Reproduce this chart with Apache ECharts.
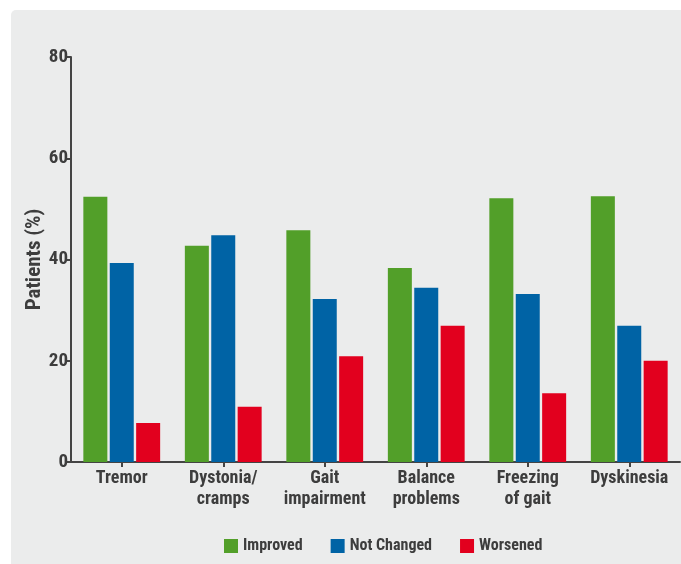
<!DOCTYPE html>
<html>
<head>
<meta charset="utf-8">
<script src="https://cdn.jsdelivr.net/npm/echarts@6/dist/echarts.min.js"></script>
<style>
html,body{margin:0;padding:0;background:#ffffff;}
#chart{width:681px;height:564px;}
</style>
</head>
<body>
<div id="chart"></div>
<script>
var categories = ['Tremor', 'Dystonia/\ncramps', 'Gait\nimpairment', 'Balance\nproblems', 'Freezing\nof gait', 'Dyskinesia'];
var improved = [52.4, 42.7, 45.8, 38.3, 52.1, 52.5];
var notChanged = [39.3, 44.8, 32.2, 34.4, 33.2, 26.9];
var worsened = [7.7, 10.9, 20.9, 26.9, 13.6, 20.0];
var seriesNames = ['Improved', 'Not Changed', 'Worsened'];
var yTicks = [0, 20, 40, 60, 80];

var FONT = '"Roboto Condensed", "Liberation Sans Narrow", Roboto, sans-serif';
var TEXT = '#3d3d3d';
var AXIS = '#444444';

var chart = echarts.init(document.getElementById('chart'), null, {renderer: 'canvas'});
chart.setOption({
  animation: false,
  backgroundColor: '#ffffff',
  graphic: [{
    type: 'rect',
    z: -10,
    shape: {x: 11, y: 10, width: 680, height: 570, r: 5},
    style: {fill: '#ebecec'}
  }],
  grid: {left: 71, right: 1, top: 57, bottom: 102, containLabel: false},
  legend: {
    left: 219,
    top: 533,
    itemWidth: 14,
    itemHeight: 14,
    itemGap: 28,
    icon: 'rect',
    textStyle: {fontFamily: FONT, fontWeight: 'bold', fontSize: 16, color: TEXT},
    data: seriesNames
  },
  xAxis: {
    type: 'category',
    data: categories,
    axisLine: {lineStyle: {color: AXIS, width: 2}},
    axisTick: {show: true, alignWithLabel: true, length: 5, lineStyle: {color: AXIS, width: 2}},
    axisLabel: {
      interval: 0,
      margin: 6,
      fontFamily: FONT,
      fontWeight: 'bold',
      fontSize: 18,
      lineHeight: 21,
      color: TEXT
    }
  },
  yAxis: {
    type: 'value',
    min: yTicks[0],
    max: yTicks[yTicks.length - 1],
    interval: 20,
    name: 'Patients (%)',
    nameLocation: 'middle',
    nameGap: 26,
    nameMoveOverlap: false,
    nameTextStyle: {fontFamily: FONT, fontWeight: 'bold', fontSize: 21, color: TEXT},
    axisLine: {show: true, lineStyle: {color: AXIS, width: 2}},
    axisTick: {show: true, length: 5, lineStyle: {color: AXIS, width: 2}},
    splitLine: {show: false},
    axisLabel: {
      margin: 3,
      fontFamily: FONT,
      fontWeight: 'bold',
      fontSize: 19,
      color: TEXT
    }
  },
  series: [
    {name: seriesNames[0], type: 'bar', data: improved, barWidth: 24, barGap: '10%', itemStyle: {color: '#529f29'}},
    {name: seriesNames[1], type: 'bar', data: notChanged, barWidth: 24, barGap: '10%', itemStyle: {color: '#0063a5'}},
    {name: seriesNames[2], type: 'bar', data: worsened, barWidth: 24, barGap: '10%', itemStyle: {color: '#e2001e'}}
  ]
});
</script>
</body>
</html>
